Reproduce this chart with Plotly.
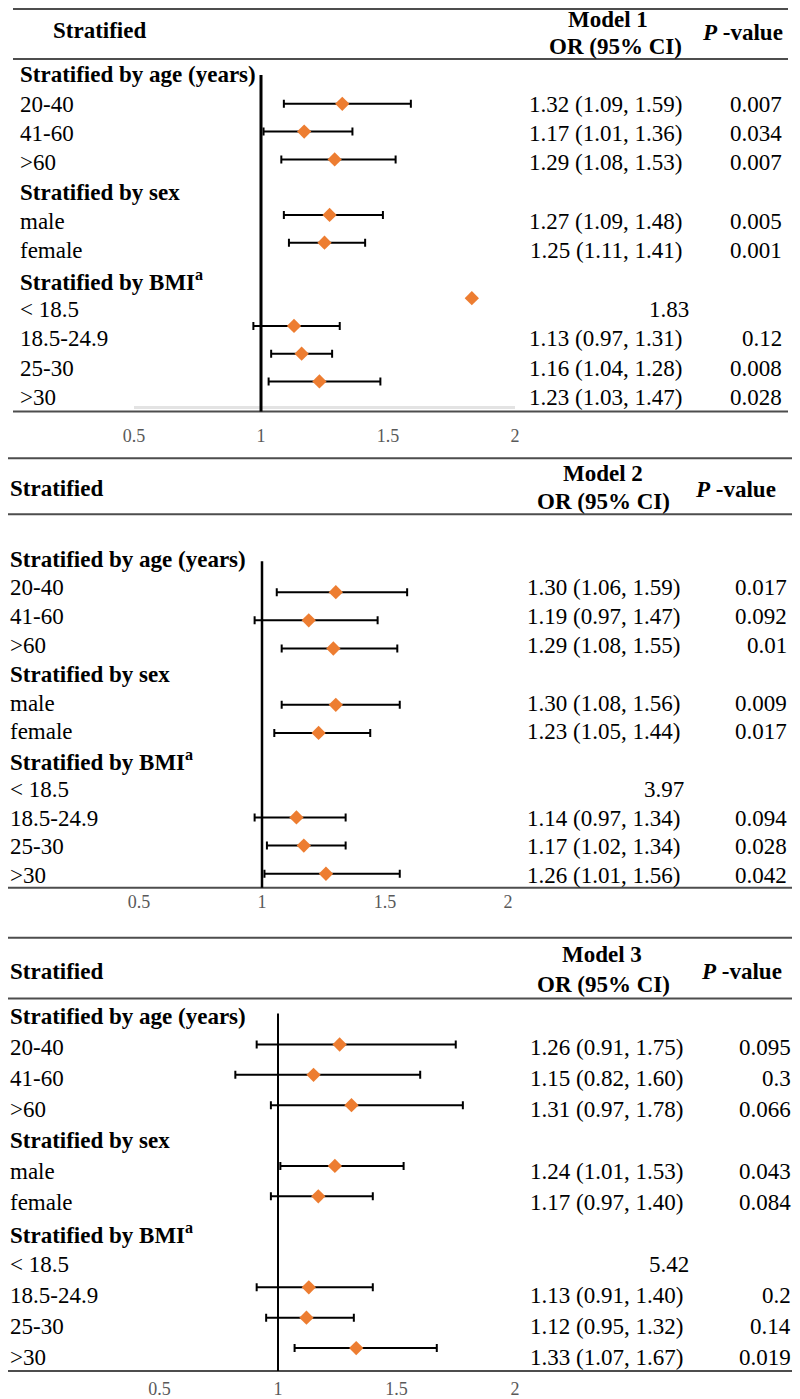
import plotly.graph_objects as go

# rows of the table (same for all three models)
rows = ["Stratified by age (years)", "20-40", "41-60", ">60",
        "Stratified by sex", "male", "female",
        "Stratified by BMI<sup>a</sup>", "< 18.5", "18.5-24.9", "25-30", ">30"]
group_rows = [0, 4, 7]

models = ["Model 1", "Model 2", "Model 3"]

or1 = [None, 1.32, 1.17, 1.29, None, 1.27, 1.25, None, 1.83, 1.13, 1.16, 1.23]
lo1 = [None, 1.09, 1.01, 1.08, None, 1.09, 1.11, None, None, 0.97, 1.04, 1.03]
hi1 = [None, 1.59, 1.36, 1.53, None, 1.48, 1.41, None, None, 1.31, 1.28, 1.47]
p1 = ["", "0.007", "0.034", "0.007", "", "0.005", "0.001", "", "", "0.12", "0.008", "0.028"]

or2 = [None, 1.30, 1.19, 1.29, None, 1.30, 1.23, None, 3.97, 1.14, 1.17, 1.26]
lo2 = [None, 1.06, 0.97, 1.08, None, 1.08, 1.05, None, None, 0.97, 1.02, 1.01]
hi2 = [None, 1.59, 1.47, 1.55, None, 1.56, 1.44, None, None, 1.34, 1.34, 1.56]
p2 = ["", "0.017", "0.092", "0.01", "", "0.009", "0.017", "", "", "0.094", "0.028", "0.042"]

or3 = [None, 1.26, 1.15, 1.31, None, 1.24, 1.17, None, 5.42, 1.13, 1.12, 1.33]
lo3 = [None, 0.91, 0.82, 0.97, None, 1.01, 0.97, None, None, 0.91, 0.95, 1.07]
hi3 = [None, 1.75, 1.60, 1.78, None, 1.53, 1.40, None, None, 1.40, 1.32, 1.67]
p3 = ["", "0.095", "0.3", "0.066", "", "0.043", "0.084", "", "", "0.2", "0.14", "0.019"]

ticks = [0.5, 1, 1.5, 2]

# page is 800x1399, the html body keeps its 8px margin
PAGE_W, PAGE_H = 800, 1399
OFF = 8
W, H = PAGE_W - OFF, PAGE_H - OFF
FONT = "Liberation Serif, Times New Roman, serif"
ORANGE = "#ED7D31"


def px_x(px):
    return min(max((px - OFF) / W, 0), 1)


def px_y(px):
    return min(max(1 - (px - OFF) / H, 0), 1)


# page-pixel layout of each panel
panels = [
    dict(band=(OFF, 440), x1=261, k=254, text=(75, 29.36), mark=(76.2, 27.8),
         vline=(75, 412, 3), top=(OFF + 1, 13, 788), head=59, bottom=412, ticky=436,
         lab_x=18, ci_r=684, est_r=691, p_r=784,
         h_strat=(51, 31), h_model=(608, 20), h_or=(615, 47), h_p=(742, 33), gray=408),
    dict(band=(445, 920), x1=262, k=246, text=(560, 28.8), mark=(564.8, 28.2),
         vline=(562, 889, 2.5), top=(459, 4, 796), head=515, bottom=889, ticky=902,
         lab_x=8, ci_r=682, est_r=686, p_r=789,
         h_strat=(8, 489), h_model=(603, 474), h_or=(603, 502), h_p=(735, 490), gray=None),
    dict(band=(925, PAGE_H), x1=278, k=237, text=(1018, 31.0), mark=(1015.6, 30.4),
         vline=(1015, 1373, 2), top=(939, 0, 800), head=1000, bottom=1373, ticky=1390,
         lab_x=5, ci_r=685, est_r=691, p_r=793,
         h_strat=(5, 973), h_model=(602, 956), h_or=(603, 986), h_p=(741, 973), gray=None),
]

data = [(or1, lo1, hi1, p1), (or2, lo2, hi2, p2), (or3, lo3, hi3, p3)]

fig = go.Figure()
layout = dict(width=W, height=H, autosize=False, margin=dict(l=0, r=0, t=0, b=0),
              paper_bgcolor="white", plot_bgcolor="rgba(0,0,0,0)", showlegend=False,
              font=dict(family=FONT, size=23, color="black"))
annotations = []
shapes = []

for n, (pan, (orv, lo, hi, pv)) in enumerate(zip(panels, data)):
    xa = "x" if n == 0 else "x%d" % (n + 1)
    ym = "y%d" % (2 * n + 1) if n else "y"
    yt = "y%d" % (2 * n + 2)
    top, bot = pan["band"]
    dom = [px_y(bot), px_y(top)]

    x1 = pan["x1"] - OFF
    xr = [1 - x1 / pan["k"], 1 + (W - x1) / pan["k"]]
    layout["xaxis" + xa[1:]] = dict(
        domain=[0, 1], range=xr, anchor="free", position=px_y(pan["ticky"] - 12),
        tickvals=ticks, ticktext=[str(t) for t in ticks], ticks="",
        showgrid=False, zeroline=False, showline=False,
        tickfont=dict(family=FONT, size=18, color="#595959"))

    m0, dm = pan["mark"]
    layout["yaxis" + ym[1:]] = dict(
        domain=dom, range=[(bot - m0) / dm, (top - m0) / dm], anchor=xa,
        visible=False, showgrid=False, zeroline=False)
    t0, dt = pan["text"]
    layout["yaxis" + yt[1:]] = dict(
        range=[(bot - t0) / dt, (top - t0) / dt], anchor=xa, overlaying=ym,
        visible=False, showgrid=False, zeroline=False)

    idx = list(range(len(rows)))
    ci = [i for i in idx if lo[i] is not None]
    pts = [i for i in idx if orv[i] is not None]

    # confidence intervals
    fig.add_trace(go.Scatter(
        x=[orv[i] for i in ci], y=ci, xaxis=xa, yaxis=ym, mode="markers",
        marker=dict(size=1, color="rgba(0,0,0,0)"),
        error_x=dict(type="data", symmetric=False,
                     array=[hi[i] - orv[i] for i in ci],
                     arrayminus=[orv[i] - lo[i] for i in ci],
                     color="black", thickness=2, width=4),
        hoverinfo="skip"))
    # odds ratios
    fig.add_trace(go.Scatter(
        x=[orv[i] for i in pts], y=pts, xaxis=xa, yaxis=ym, mode="markers",
        marker=dict(symbol="diamond", size=11, color=ORANGE),
        hoverinfo="skip"))
    # anchor trace for the text rows
    fig.add_trace(go.Scatter(x=[1] * len(idx), y=idx, xaxis=xa, yaxis=yt, mode="markers",
                             marker=dict(size=1, color="rgba(0,0,0,0)"), hoverinfo="skip"))

    # table text
    for i in idx:
        label = "<b>%s</b>" % rows[i] if i in group_rows else rows[i]
        annotations.append(dict(x=px_x(pan["lab_x"]), y=i, xref="paper", yref=yt,
                                text=label, xanchor="left", yanchor="middle", showarrow=False))
        if orv[i] is not None:
            if lo[i] is not None:
                txt = "%.2f (%.2f, %.2f)" % (orv[i], lo[i], hi[i])
                xr_px = pan["ci_r"]
            else:
                txt = "%.2f" % orv[i]
                xr_px = pan["est_r"]
            annotations.append(dict(x=px_x(xr_px), y=i, xref="paper", yref=yt, text=txt,
                                    xanchor="right", yanchor="middle", showarrow=False))
        if pv[i]:
            annotations.append(dict(x=px_x(pan["p_r"]), y=i, xref="paper", yref=yt, text=pv[i],
                                    xanchor="right", yanchor="middle", showarrow=False))

    # header
    hs = pan["h_strat"]
    annotations.append(dict(x=px_x(hs[0]), y=px_y(hs[1]), xref="paper", yref="paper",
                            text="<b>Stratified</b>", xanchor="left", yanchor="middle",
                            showarrow=False))
    hm = pan["h_model"]
    annotations.append(dict(x=px_x(hm[0]), y=px_y(hm[1]), xref="paper", yref="paper",
                            text="<b>%s</b>" % models[n], xanchor="center", yanchor="middle",
                            showarrow=False))
    ho = pan["h_or"]
    annotations.append(dict(x=px_x(ho[0]), y=px_y(ho[1]), xref="paper", yref="paper",
                            text="<b>OR (95% CI)</b>", xanchor="center", yanchor="middle",
                            showarrow=False))
    hp = pan["h_p"]
    annotations.append(dict(x=px_x(hp[0]), y=px_y(hp[1]), xref="paper", yref="paper",
                            text="<b><i>P</i> -value</b>", xanchor="center", yanchor="middle",
                            showarrow=False))

    # rules
    ty, tx0, tx1 = pan["top"]
    line = dict(color="#4d4d4d", width=2)
    for yy in (ty, pan["head"], pan["bottom"]):
        shapes.append(dict(type="line", xref="paper", yref="paper",
                           x0=px_x(tx0), x1=px_x(tx1), y0=px_y(yy), y1=px_y(yy), line=line))
    if pan["gray"]:
        shapes.append(dict(type="line", xref=xa, yref="paper", x0=ticks[0], x1=ticks[-1],
                           y0=px_y(pan["gray"]), y1=px_y(pan["gray"]),
                           line=dict(color="#e3e3e3", width=3), layer="below"))
    v0, v1, vw = pan["vline"]
    shapes.append(dict(type="line", xref=xa, yref="paper", x0=1, x1=1,
                       y0=px_y(v0), y1=px_y(v1), line=dict(color="black", width=vw)))

layout["annotations"] = annotations
layout["shapes"] = shapes
fig.update_layout(**layout)

fig.write_html("out.html")
